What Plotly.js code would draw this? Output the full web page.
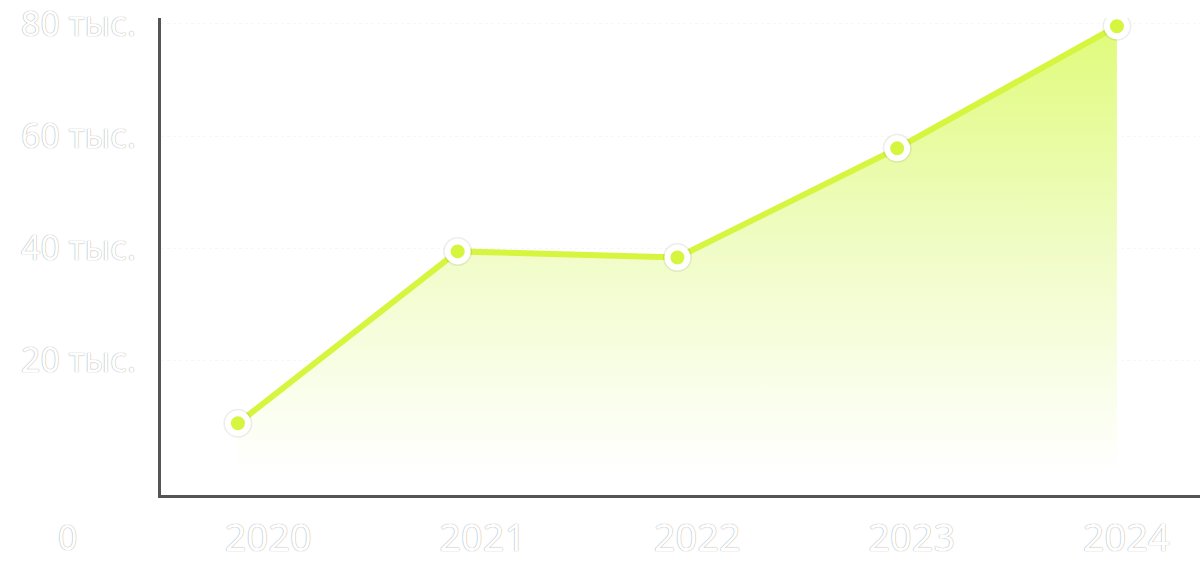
<!DOCTYPE html>
<html><head><meta charset="utf-8">
<script src="https://cdn.plot.ly/plotly-3.0.1.min.js"></script>
<style>html,body{margin:0;padding:0;background:#fff;}#chart{width:1200px;height:579px;}</style>
</head><body><div id="chart"></div>
<script>
const years = [2020, 2021, 2022, 2023, 2024];
const values = [8700, 39400, 38300, 57800, 79600];
const xTickLabels = ['2020', '2021', '2022', '2023', '2024'];
const yTickValues = [20000, 40000, 60000, 80000];
const yTickLabels = ['20 тыс.', '40 тыс.', '60 тыс.', '80 тыс.'];
const zeroLabel = '0';

const lineColor = '#d5f53e';
const textFont = {family: 'Noto Sans, Lato, sans-serif', color: '#ffffff', shadow: '0px 0px 1px rgba(0,0,0,0.5)'};

const traces = [{
  x: years, y: values, type: 'scatter', mode: 'lines',
  line: {color: lineColor, width: 6},
  fill: 'tozeroy',
  fillgradient: {type: 'vertical', start: 0, stop: 80000,
    colorscale: [[0, 'rgba(255,255,255,1)'], [0.5, '#f0fcc6'], [1, '#e0fb7a']]},
  hoverinfo: 'skip', showlegend: false
}, {
  x: years, y: values, type: 'scatter', mode: 'markers',
  marker: {color: 'rgba(0,0,0,0.07)', size: 29},
  hoverinfo: 'skip', showlegend: false
}, {
  x: years, y: values, type: 'scatter', mode: 'markers',
  marker: {color: lineColor, size: 20, line: {color: '#ffffff', width: 6}},
  hoverinfo: 'skip', showlegend: false
}, {
  x: xTickLabels.map((_, i) => i), y: xTickLabels.map(() => null),
  xaxis: 'x2', type: 'scatter', mode: 'markers', showlegend: false, hoverinfo: 'skip'
}];

const layout = {
  width: 1200, height: 579,
  margin: {l: 161, r: 0, t: 18, b: 84},
  paper_bgcolor: '#ffffff', plot_bgcolor: '#ffffff',
  showlegend: false,
  xaxis: {range: [2019.65, 2024.378], showgrid: false, zeroline: false,
    showline: true, linecolor: '#555555', linewidth: 3, showticklabels: false, ticks: ''},
  xaxis2: {overlaying: 'x', side: 'bottom', range: [-0.5, 4.344],
    tickvals: xTickLabels.map((_, i) => i), ticktext: xTickLabels,
    showgrid: false, zeroline: false, showline: false, ticks: '', ticklabeloverflow: 'allow',
    ticklabelstandoff: 17, tickfont: Object.assign({size: 38}, textFont)},
  yaxis: {range: [-4100, 81070], tickvals: yTickValues, ticktext: yTickLabels,
    showgrid: true, gridcolor: '#f7f7f7', griddash: 'dot', gridwidth: 1,
    zeroline: false, showline: true, linecolor: '#555555', linewidth: 3, ticks: '',
    ticklabeloverflow: 'allow',
    ticklabelstandoff: 15, tickfont: Object.assign({size: 34}, textFont)},
  annotations: [{text: zeroLabel, xref: 'paper', yref: 'paper',
    x: (67 - 161) / 1039, y: -(537 - 495) / 477, xanchor: 'center', yanchor: 'middle',
    showarrow: false, font: Object.assign({size: 34}, textFont)}]
};

Plotly.newPlot('chart', traces, layout, {displayModeBar: false, staticPlot: true});
</script></body></html>
